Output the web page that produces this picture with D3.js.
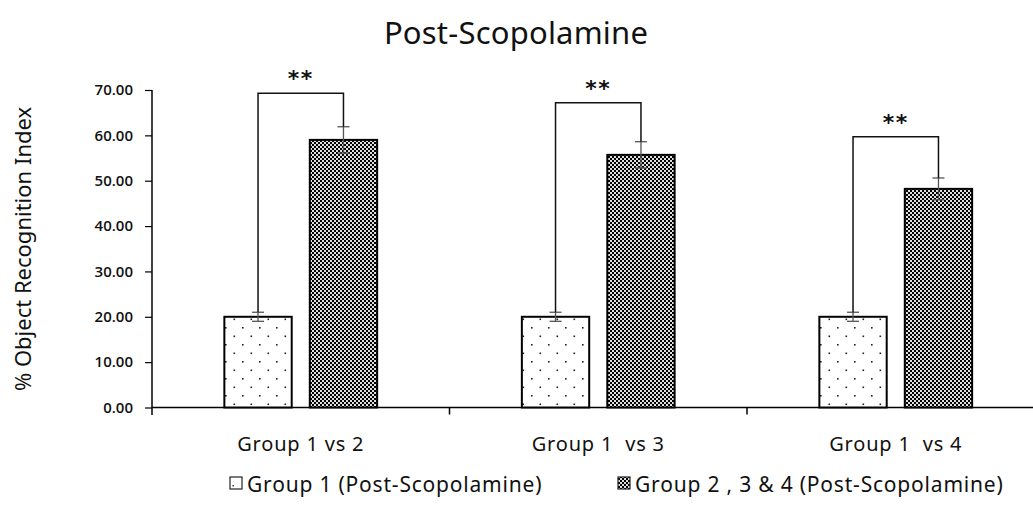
<!DOCTYPE html>
<html>
<head>
<meta charset="utf-8">
<script src="https://cdn.jsdelivr.net/npm/d3@7"></script>
<style>
html,body{margin:0;padding:0;background:#fff;}
svg{display:block;}
</style>
</head>
<body>
<svg id="chart" width="1033" height="516"></svg>
<script>
const categories = ["Group 1 vs 2", "Group 1  vs 3", "Group 1  vs 4"];
const seriesNames = ["Group 1 (Post-Scopolamine)", "Group 2 , 3 & 4 (Post-Scopolamine)"];
const group1Values = [20.0, 20.0, 20.0];
const group1Errors = [1.0, 1.0, 1.0];
const groupNValues = [59.0, 55.7, 48.2];
const groupNErrors = [2.9, 2.9, 2.4];
const bracketLevels = [69.3, 67.2, 59.7];
const sigLabels = ["**", "**", "**"];
const yTicks = [0, 10, 20, 30, 40, 50, 60, 70];

const svg = d3.select("#chart");
const defs = svg.append("defs");

// dotted pattern
const dots = defs.append("pattern").attr("id","dots").attr("patternUnits","userSpaceOnUse")
  .attr("width",17).attr("height",17).attr("x",0).attr("y",0);
dots.append("rect").attr("width",17).attr("height",17).attr("fill","#fff");
dots.append("rect").attr("x",4).attr("y",4).attr("width",1.6).attr("height",1.6).attr("fill","#222");
dots.append("rect").attr("x",12.5).attr("y",12.5).attr("width",1.6).attr("height",1.6).attr("fill","#222");

// checker pattern
const chk = defs.append("pattern").attr("id","checker").attr("patternUnits","userSpaceOnUse")
  .attr("width",4).attr("height",4);
chk.append("rect").attr("width",4).attr("height",4).attr("fill","#e0e0e0");
chk.append("rect").attr("x",0).attr("y",0).attr("width",2).attr("height",2).attr("fill","#000");
chk.append("rect").attr("x",2).attr("y",2).attr("width",2).attr("height",2).attr("fill","#000");

const x0 = d3.scaleBand().domain(categories).range([152, 1044.5]).padding(0);
const x1 = d3.scaleBand().domain([0,1]).range([0, x0.bandwidth()]).paddingInner(0.2118).paddingOuter(0.847);
const y = d3.scaleLinear().domain([0,70]).range([407.5, 90]);

const sans = "'Noto Sans', sans-serif";

// Title
svg.append("text").attr("x",516).attr("y",44).attr("text-anchor","middle")
  .attr("font-family",sans).attr("font-size",31).attr("letter-spacing",0.2).attr("fill","#111")
  .text("Post-Scopolamine");

// Y axis label
svg.append("text").attr("transform","translate(31,249) rotate(-90)").attr("text-anchor","middle")
  .attr("font-family",sans).attr("font-size",22).attr("fill","#111")
  .text("% Object Recognition Index");

// Y axis
const yAxis = d3.axisLeft(y).tickValues(yTicks).tickFormat(d3.format(".2f")).tickSize(7).tickPadding(12);
const gy = svg.append("g").attr("transform","translate(152,0)").call(yAxis);
gy.select(".domain").attr("stroke","#000").attr("stroke-width",1.5).attr("d","M0,90V415");
gy.selectAll(".tick line").attr("stroke","#000").attr("stroke-width",1.2);
gy.selectAll(".tick text").attr("font-family","'Open Sans', sans-serif").attr("font-size",15).attr("font-weight",600).attr("fill","#111");

// X axis
const gx = svg.append("g").attr("transform","translate(0,407.5)");
gx.append("line").attr("x1",152).attr("x2",1044.5).attr("y1",0).attr("y2",0).attr("stroke","#000").attr("stroke-width",1.5);
gx.selectAll("line.ct").data(categories.slice(1)).join("line").attr("class","ct")
  .attr("x1",d=>x0(d)).attr("x2",d=>x0(d)).attr("y1",0).attr("y2",7).attr("stroke","#000").attr("stroke-width",1.5);
gx.selectAll("text").data(categories).join("text")
  .attr("x",d=>x0(d)+x0.bandwidth()/2).attr("y",43).attr("text-anchor","middle")
  .attr("font-family",sans).attr("font-size",20).attr("letter-spacing",0.8).attr("fill","#111")
  .style("white-space","pre").attr("xml:space","preserve")
  .text(d=>d);

// Bars
const data = categories.map((c,i)=>({c, i, v:[group1Values[i], groupNValues[i]], e:[group1Errors[i], groupNErrors[i]]}));
const g = svg.append("g");
data.forEach(d=>{
  [0,1].forEach(s=>{
    const bx = x0(d.c)+x1(s), bw = x1.bandwidth();
    const cx = bx+bw/2;
    g.append("rect").attr("x",bx).attr("y",y(d.v[s])).attr("width",bw).attr("height",y(0)-y(d.v[s]))
      .attr("fill", s===0?"url(#dots)":"url(#checker)").attr("stroke","#000").attr("stroke-width",2);
    g.append("line").attr("x1",cx).attr("x2",cx).attr("y1",y(d.v[s]+d.e[s])).attr("y2",y(d.v[s]-d.e[s]))
      .attr("stroke","#555").attr("stroke-width",1.3);
    [1,-1].forEach(k=>{
      g.append("line").attr("x1",cx-6).attr("x2",cx+6).attr("y1",y(d.v[s]+k*d.e[s])).attr("y2",y(d.v[s]+k*d.e[s]))
        .attr("stroke","#555").attr("stroke-width",1.3);
    });
  });
  // bracket
  const xa = x0(d.c)+x1(0)+x1.bandwidth()/2, xb = x0(d.c)+x1(1)+x1.bandwidth()/2;
  const yt = y(bracketLevels[d.i]);
  g.append("path").attr("d",`M${xa},${y(d.v[0]+d.e[0])}V${yt}H${xb}V${y(d.v[1]+d.e[1])}`)
    .attr("fill","none").attr("stroke","#111").attr("stroke-width",1.5);
  g.append("text").attr("x",(xa+xb)/2).attr("y",yt-7).attr("text-anchor","middle")
    .attr("font-family","'DejaVu Sans', sans-serif").attr("font-size",22).attr("font-weight","bold")
    .attr("letter-spacing",1.5).attr("fill","#111")
    .text(sigLabels[d.i]);
});

// Legend
const legX = [230, 618];
const lg = svg.append("g");
seriesNames.forEach((n,i)=>{
  lg.append("rect").attr("x",legX[i]).attr("y",477).attr("width",12).attr("height",12)
    .attr("fill", i===0?"#fff":"url(#checker)").attr("stroke","#222").attr("stroke-width",1.2);
  if(i===0) lg.append("rect").attr("x",legX[i]+2.5).attr("y",477+8).attr("width",1.4).attr("height",1.4).attr("fill","#222");
  lg.append("text").attr("x",legX[i]+17).attr("y",491.5).attr("font-family",sans)
    .attr("font-size",21).attr("letter-spacing",0.8).attr("fill","#111").text(n);
});
</script>
</body>
</html>
